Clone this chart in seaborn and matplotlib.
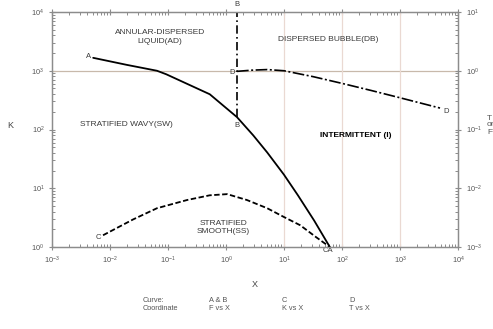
import numpy as np
import pandas as pd
import matplotlib
matplotlib.use("Agg")
import matplotlib.pyplot as plt
import seaborn as sns

# ---- data (log10 values) ----
curve_a_logx = [-2.29, -1.71, -1.19, -1.03, -0.28, 0.19, 0.47, 0.71, 1.00, 1.24, 1.52, 1.79]
curve_a_logf = [0.22, 0.10, 0.00, -0.06, -0.40, -0.79, -1.10, -1.39, -1.77, -2.12, -2.55, -3.00]

curve_b_logx = [0.19, 0.19]
curve_b_logf = [-0.79, 1.00]

curve_c_logx = [-2.12, -1.60, -1.19, -0.67, -0.28, 0.02, 0.36, 0.71, 1.00, 1.28, 1.55, 1.79]
curve_c_logk = [0.20, 0.47, 0.66, 0.80, 0.88, 0.90, 0.80, 0.66, 0.51, 0.37, 0.17, 0.00]

curve_d_logx = [0.19, 0.45, 0.71, 1.00, 1.50, 2.00, 2.50, 3.00, 3.69]
curve_d_logt = [-0.01, 0.01, 0.02, 0.00, -0.10, -0.215, -0.335, -0.46, -0.635]

x_tick_values = [1e-3, 1e-2, 1e-1, 1e0, 1e1, 1e2, 1e3, 1e4]
k_tick_values = [1e0, 1e1, 1e2, 1e3, 1e4]
tf_tick_values = [1e-3, 1e-2, 1e-1, 1e0, 1e1]

region_labels = ["ANNULAR-DISPERSED\nLIQUID(AD)", "DISPERSED BUBBLE(DB)",
                 "STRATIFIED WAVY(SW)", "INTERMITTENT (I)", "STRATIFIED\nSMOOTH(SS)"]
legend_curves = ["Curve:", "A & B", "C", "D"]
legend_coords = ["Coordinate", "F vs X", "K vs X", "T vs X"]

df_a = pd.DataFrame({"X": 10 ** np.array(curve_a_logx), "F": 10 ** np.array(curve_a_logf)})
df_b = pd.DataFrame({"X": 10 ** np.array(curve_b_logx), "F": 10 ** np.array(curve_b_logf)})
df_c = pd.DataFrame({"X": 10 ** np.array(curve_c_logx), "K": 10 ** np.array(curve_c_logk)})
df_d = pd.DataFrame({"X": 10 ** np.array(curve_d_logx), "T": 10 ** np.array(curve_d_logt)})

sns.set_theme(style="ticks")
plt.rcParams["font.family"] = ["Liberation Sans", "DejaVu Sans"]

W, H = 493, 329
fig = plt.figure(figsize=(W / 100, H / 100), dpi=100)
ax = fig.add_axes([52 / W, 1 - 247 / H, 406 / W, 235 / H])
ax.set_xscale("log")
ax.set_yscale("log")
ax2 = ax.twinx()
ax2.set_yscale("log")

spine_col = "#8c8c8c"
for a in (ax, ax2):
    for s in a.spines.values():
        s.set_color(spine_col)
        s.set_linewidth(0.9)

# reference lines
ax.axhline(1e3, color="#c8b9ab", lw=0.9, zorder=1)
for v in x_tick_values[4:7]:
    ax.axvline(v, color="#ead9d2", lw=0.9, zorder=1)

# curves
sns.lineplot(data=df_a, x="X", y="F", ax=ax2, color="black", lw=1.3,
             sort=False, estimator=None)
sns.lineplot(data=df_b, x="X", y="F", ax=ax2, color="black", lw=1.2,
             sort=False, estimator=None, linestyle=(0, (5, 2, 1, 2)))
sns.lineplot(data=df_d, x="X", y="T", ax=ax2, color="black", lw=1.2,
             sort=False, estimator=None, linestyle=(0, (7, 1.5, 1.2, 1.5)))
sns.lineplot(data=df_c, x="X", y="K", ax=ax, color="black", lw=1.3,
             sort=False, estimator=None, linestyle=(0, (3, 1.4)))

ax.set_xticks(x_tick_values)
ax.set_yticks(k_tick_values)
ax2.set_yticks(tf_tick_values)
ax.set_xlim(x_tick_values[0], x_tick_values[-1])
ax.set_ylim(k_tick_values[0], k_tick_values[-1])
ax2.set_ylim(tf_tick_values[0], tf_tick_values[-1])

# ticks
tick_col = "#555555"
ax.tick_params(axis="both", which="major", direction="inout", length=5, width=0.8,
               color=spine_col, labelsize=5.3, labelcolor=tick_col, pad=3,
               top=True, right=False)
ax.tick_params(axis="both", which="minor", direction="in", length=2.5, width=0.7,
               color=spine_col, top=True, right=False)
ax2.tick_params(axis="y", which="major", direction="inout", length=5, width=0.8,
                color=spine_col, labelsize=5.3, labelcolor=tick_col, pad=3)
ax2.tick_params(axis="y", which="minor", direction="in", length=2.5, width=0.7,
                color=spine_col)

ax.set_xlabel("X", fontsize=6.5, color="#444444", labelpad=10)
ax.set_ylabel("K", fontsize=6.5, color="#444444", rotation=0)
ax.yaxis.set_label_coords(-0.103, 0.5)
ax2.set_ylabel("")

# region labels
txt_col = "#3a3a3a"
ax.text(10 ** -1.14, 10 ** 3.57, region_labels[0], fontsize=6, color=txt_col,
        ha="center", va="center", linespacing=1.4)
ax.text(10 ** 1.76, 10 ** 3.54, region_labels[1], fontsize=6, color=txt_col,
        ha="center", va="center")
ax.text(10 ** -1.71, 10 ** 2.09, region_labels[2], fontsize=6, color=txt_col,
        ha="center", va="center")
ax.text(10 ** 2.24, 10 ** 1.89, region_labels[3], fontsize=6, color="black",
        ha="center", va="center", fontweight="bold")
ax.text(10 ** -0.05, 10 ** 0.33, region_labels[4], fontsize=6, color=txt_col,
        ha="center", va="center", linespacing=1.3)

# curve letters
lab_kw = dict(fontsize=5.5, color=txt_col, va="center", clip_on=False)
ax2.text(10 ** -2.33, 10 ** 0.24, "A", ha="right", **lab_kw)
ax2.text(10 ** 0.19, 10 ** 1.12, "B", ha="center", **lab_kw)
ax2.text(10 ** 0.11, 10 ** -0.03, "D", ha="center", **lab_kw)
ax2.text(10 ** 0.19, 10 ** -0.94, "B", ha="center", **lab_kw)
ax.text(10 ** -2.15, 10 ** 0.17, "C", ha="right", **lab_kw)
ax.text(10 ** 1.76, 10 ** -0.06, "CA", ha="center", **lab_kw)
ax2.text(10 ** 3.75, 10 ** -0.70, "D", ha="left", **lab_kw)

# right axis label (cut by the figure edge, as in the reference)
fig.text(487 / W, 1 - 125 / H, "T\nor\nF", fontsize=6, color="#555555",
         ha="left", va="center", linespacing=1.0)

# bottom legend
leg_x = [143, 209, 282, 349]
for xp, t1, t2 in zip(leg_x, legend_curves, legend_coords):
    fig.text(xp / W, 1 - 300 / H, t1, fontsize=5.3, color="#555555", ha="left", va="center")
    fig.text(xp / W, 1 - 308 / H, t2, fontsize=5.3, color="#555555", ha="left", va="center")

fig.savefig("out.png", dpi=100)
